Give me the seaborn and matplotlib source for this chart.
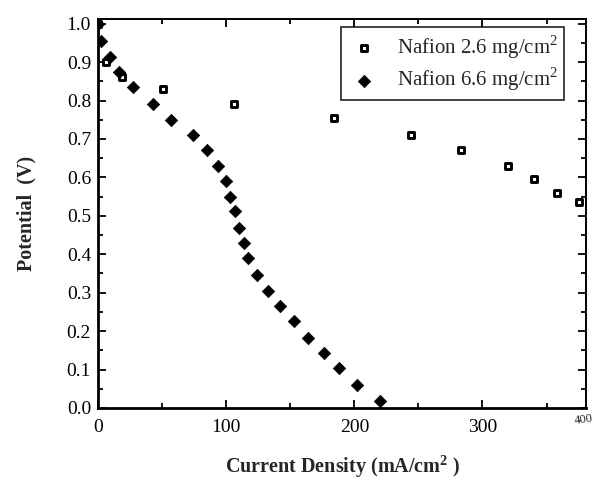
import numpy as np
import pandas as pd
import matplotlib
matplotlib.use("Agg")
import matplotlib.pyplot as plt
from matplotlib.ticker import MultipleLocator
import seaborn as sns

# Polarization data: current density (mA/cm^2) vs cell potential (V)
cd_26 = [0, 6, 19, 51, 106, 184, 244, 283, 320, 340, 358, 375]
v_26 = [1.00, 0.90, 0.86, 0.83, 0.79, 0.755, 0.71, 0.672, 0.63, 0.595, 0.56, 0.535]

cd_66 = [0, 2, 9, 16, 27, 43, 57, 74, 85, 94, 100, 103, 107, 110, 114,
         117, 124, 133, 142, 153, 164, 176, 188, 202, 220]
v_66 = [1.00, 0.955, 0.912, 0.875, 0.835, 0.79, 0.749, 0.71, 0.671, 0.629,
        0.59, 0.548, 0.512, 0.467, 0.428, 0.389, 0.345, 0.305, 0.266, 0.227,
        0.183, 0.144, 0.104, 0.06, 0.018]

label_26 = "Nafion 2.6 mg/cm$^2$"
label_66 = "Nafion 6.6 mg/cm$^2$"
x_ticks = [0, 100, 200, 300]
y_ticks = [0.0, 0.1, 0.2, 0.3, 0.4, 0.5, 0.6, 0.7, 0.8, 0.9, 1.0]
x_end_label = "400"

df26 = pd.DataFrame({"cd": cd_26, "v": v_26})
df66 = pd.DataFrame({"cd": cd_66, "v": v_66})

sns.set_theme(style="ticks")
plt.rcParams["font.family"] = ["Liberation Serif", "DejaVu Serif"]
plt.rcParams["mathtext.fontset"] = "custom"
plt.rcParams["mathtext.rm"] = "Liberation Serif"
plt.rcParams["mathtext.bf"] = "Liberation Serif:bold"

fig = plt.figure(figsize=(5.94, 4.88), dpi=100)
ax = fig.add_axes([0.165, 0.164, 0.822, 0.797])

sns.scatterplot(data=df26, x="cd", y="v", ax=ax, marker="s", s=20,
                facecolor="white", edgecolor="black", linewidth=2.1,
                label=label_26, zorder=3)
sns.scatterplot(data=df66, x="cd", y="v", ax=ax, marker="D", s=40,
                color="black", edgecolor="black", linewidth=0.5,
                label=label_66, zorder=3)

ax.set_xlim(0, 381)
ax.set_ylim(0, 1.012)
ax.set_xticks(x_ticks)
ax.set_yticks(y_ticks)
ax.set_yticklabels([f"{t:.1f}" for t in y_ticks])
ax.xaxis.set_minor_locator(MultipleLocator(50))
ax.yaxis.set_minor_locator(MultipleLocator(0.05))

ax.tick_params(axis="both", which="both", direction="in", top=True, right=True,
               labelsize=14, colors="black", width=1.3)
ax.tick_params(axis="both", which="major", length=6)
ax.tick_params(axis="both", which="minor", length=3.5)
ax.tick_params(axis="x", which="major", pad=8)
ax.tick_params(axis="y", which="major", pad=5)

for side in ["left", "bottom"]:
    ax.spines[side].set_linewidth(2.0)
for side in ["top", "right"]:
    ax.spines[side].set_linewidth(1.4)
for sp in ax.spines.values():
    sp.set_color("black")

ax.text(0.995, -0.012, x_end_label, transform=ax.transAxes, ha="center",
        va="top", fontsize=9, rotation=8)

ax.set_xlabel("Current Density (mA/cm$^{\\mathbf{2}}$ )", fontsize=14.5,
              fontweight="bold", labelpad=12)
ax.set_ylabel("Potential  (V)", fontsize=14.5, fontweight="bold", labelpad=22)

leg = ax.legend(loc="upper right", bbox_to_anchor=(0.955, 0.98),
                borderaxespad=0, frameon=True, fancybox=False,
                edgecolor="black", fontsize=15, handletextpad=0.8,
                borderpad=0.3, labelspacing=0.25, handlelength=1.6,
                markerscale=1.0)
leg.get_frame().set_linewidth(1.3)

fig.savefig("out.png", dpi=100, facecolor="white")
